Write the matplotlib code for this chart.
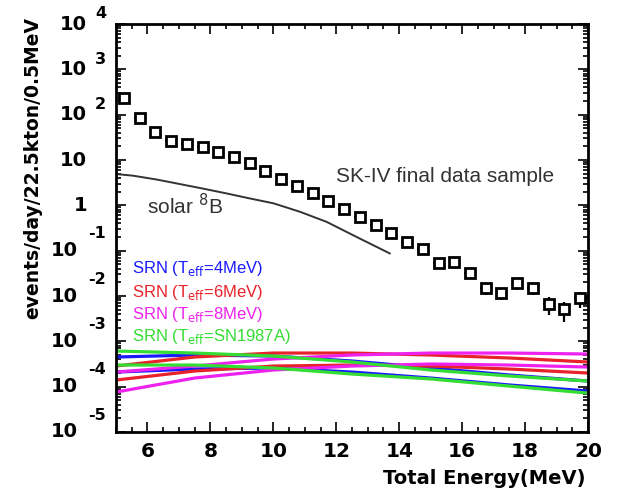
import matplotlib.pyplot as plt
from matplotlib.ticker import MultipleLocator, LogLocator, NullFormatter

plt.rcParams['font.family'] = ['Liberation Sans', 'DejaVu Sans']
BOLD = dict(family='DejaVu Sans', fontweight='bold')

# SK-IV data, bin centres (MeV) and rate per 0.5 MeV bin
energy = [5.25, 5.75, 6.25, 6.75, 7.25, 7.75, 8.25, 8.75, 9.25, 9.75,
          10.25, 10.75, 11.25, 11.75, 12.25, 12.75, 13.25, 13.75, 14.25, 14.75,
          15.25, 15.75, 16.25, 16.75, 17.25, 17.75, 18.25, 18.75, 19.25, 19.75]
counts = [230, 85, 41, 26, 22, 19.6, 15, 11.8, 8.4, 5.8,
          3.9, 2.7, 1.83, 1.26, 0.81, 0.54, 0.37, 0.25, 0.155, 0.107,
          0.053, 0.056, 0.032, 0.0148, 0.0115, 0.019, 0.0148, 0.0066, 0.0051, 0.0089]
count_err = [46, 17, 8, 5, 4.4, 3.9, 3, 2.4, 1.7, 1.2,
             0.8, 0.55, 0.37, 0.25, 0.16, 0.11, 0.075, 0.05, 0.031, 0.022,
             0.011, 0.012, 0.0075, 0.0045, 0.0035, 0.0055, 0.0045, 0.0028, 0.0024, 0.0035]

# solar 8B background curve
solar_e = [5.0, 5.55, 6.3, 7.75, 8.5, 9.25, 10.0, 10.85, 11.7, 12.65, 13.7]
solar_rate = [4.9, 4.5, 3.7, 2.35, 1.84, 1.42, 1.11, 0.72, 0.43, 0.20, 0.087]

# SRN predictions, upper/lower edge of each band (units of 1e-4)
srn_e = [5, 7.5, 10, 12.5, 15, 17.5, 20]
srn_4_hi = [4.51, 4.99, 4.74, 3.68, 2.58, 1.81, 1.33]
srn_4_lo = [2.10, 2.45, 2.58, 2.10, 1.55, 1.09, 0.80]
srn_6_hi = [2.85, 4.51, 5.52, 5.52, 4.99, 4.29, 3.50]
srn_6_lo = [1.40, 2.21, 2.85, 3.00, 2.85, 2.45, 2.00]
srn_8_hi = [2.10, 2.85, 4.07, 4.99, 5.52, 5.52, 5.25]
srn_8_lo = [0.76, 1.55, 2.33, 2.85, 3.16, 3.00, 2.71]
srn_87_hi = [6.11, 5.52, 4.74, 3.50, 2.33, 1.72, 1.33]
srn_87_lo = [3.00, 3.00, 2.58, 1.90, 1.48, 1.03, 0.72]

srn_labels = ['SRN (T$_{\\rm eff}$=4MeV)', 'SRN (T$_{\\rm eff}$=6MeV)',
              'SRN (T$_{\\rm eff}$=8MeV)', 'SRN (T$_{\\rm eff}$=SN1987A)']
srn_colors = ['#1a1aff', '#e8222a', '#ee22ee', '#33dd33']

fig = plt.figure(figsize=(6.2, 4.93), dpi=100)
ax = fig.add_axes([116/620, 61/493, 472/620, 408/493])
ax.set_yscale('log')
ax.set_xlim(5, 20)
ax.set_ylim(1e-5, 1e4)

bands = [(srn_4_hi, srn_4_lo), (srn_6_hi, srn_6_lo),
         (srn_8_hi, srn_8_lo), (srn_87_hi, srn_87_lo)]
for (hi, lo), c in zip(bands, srn_colors):
    ax.plot(srn_e, [v*1e-4 for v in hi], color=c, lw=2.3)
    ax.plot(srn_e, [v*1e-4 for v in lo], color=c, lw=2.3)

ax.plot(solar_e, solar_rate, color='#333333', lw=1.4)

ax.errorbar(energy, counts, yerr=count_err, xerr=0.18, fmt='s', mfc='white',
            mec='black', ms=7.5, mew=2, ecolor='black', elinewidth=1.6, capsize=0)

# ticks
ax.xaxis.set_major_locator(MultipleLocator(2))
ax.xaxis.set_minor_locator(MultipleLocator(0.5))
ax.yaxis.set_major_locator(LogLocator(base=10, numticks=20))
ax.yaxis.set_minor_locator(LogLocator(base=10, subs=range(2, 10), numticks=20))
ax.yaxis.set_minor_formatter(NullFormatter())
ax.tick_params(which='both', direction='in', top=True, right=True, width=1.2)
ax.tick_params(which='major', length=7)
ax.tick_params(which='minor', length=3.5)
ax.tick_params(axis='y', labelleft=False)
ax.tick_params(axis='x', labelsize=14.5, pad=7)
for lab in ax.get_xticklabels():
    lab.set_fontweight('bold')
    lab.set_family('DejaVu Sans')
for s in ax.spines.values():
    s.set_linewidth(2)

ytr = ax.get_yaxis_transform()
for k in range(-5, 5):
    if k == 0:
        ax.text(-0.0614, 1, '1', transform=ytr, ha='right', va='center',
                fontsize=14, **BOLD)
    elif k == 1:
        ax.text(-0.0614, 10, '10', transform=ytr, ha='right', va='center',
                fontsize=14, **BOLD)
    else:
        base_x = -0.0614 if k > 0 else -0.0805
        dy = 7.2 if k > 0 else 12.2
        ax.text(base_x, 10.0**k, '10', transform=ytr, ha='right', va='center',
                fontsize=14, **BOLD)
        ax.annotate(str(k), xy=(-0.0212, 10.0**k), xycoords=ytr,
                    xytext=(0, dy), textcoords='offset points',
                    ha='right', va='center', fontsize=11.5, **BOLD)

ax.text(0.994, -0.113, 'Total Energy(MeV)', transform=ax.transAxes,
        ha='right', va='center', fontsize=14, **BOLD)
ax.text(-0.176, 0.648, 'events/day/22.5kton/0.5MeV', transform=ax.transAxes,
        rotation=90, ha='center', va='center', fontsize=13.5, **BOLD)

ax.text(0.466, 0.625, 'SK-IV final data sample', transform=ax.transAxes,
        ha='left', va='center', fontsize=15, color='#333333')
ax.text(0.066, 0.556, 'solar $^{8}$B', transform=ax.transAxes,
        ha='left', va='center', fontsize=15, color='#333333')

for i, (lab, c) in enumerate(zip(srn_labels, srn_colors)):
    ax.text(0.034, [0.40, 0.343, 0.289, 0.233][i], lab, transform=ax.transAxes,
            ha='left', va='center', fontsize=12, color=c)

fig.savefig('out.png', dpi=100)
